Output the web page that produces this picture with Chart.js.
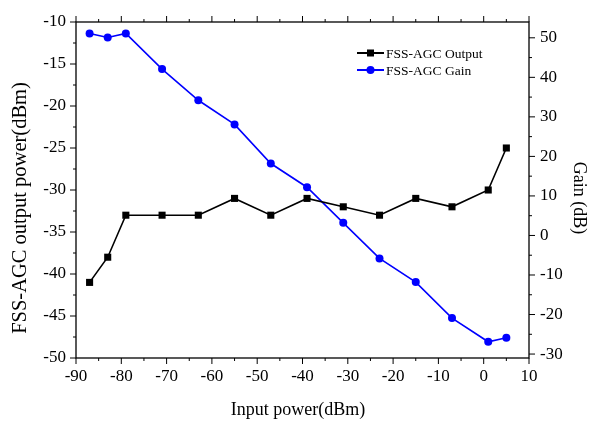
<!DOCTYPE html>
<html>
<head>
<meta charset="utf-8">
<script src="https://cdn.jsdelivr.net/npm/chart.js@4.4.1/dist/chart.umd.min.js"></script>
<style>
html, body { margin: 0; padding: 0; background: #fff; }
</style>
</head>
<body>
<canvas id="agc-chart" width="591" height="433"></canvas>
<script>
// Input power sweep (dBm) and measured values
var inputPower = [-87, -83, -79, -71, -63, -55, -47, -39, -31, -23, -15, -7, 1, 5];
var outputPower = [-41, -38, -33, -33, -33, -31, -33, -31, -32, -33, -31, -32, -30, -25];
var gainDb = [51.1, 50.1, 51.1, 42.1, 34.2, 28.1, 18.2, 12.2, 3.2, -5.8, -11.8, -20.9, -26.9, -25.9];

var seriesNames = ["FSS-AGC Output", "FSS-AGC Gain"];
var axisTitles = { x: "Input power(dBm)", y: "FSS-AGC output power(dBm)", y2: "Gain (dB)" };

var serif = '"Liberation Serif", "DejaVu Serif", serif';

function toPoints(xs, ys) {
    return xs.map(function (x, i) { return { x: x, y: ys[i] }; });
}

// Origin-style frame: box round the plot, outward ticks, minor ticks halfway
var frameTicks = {
    id: 'frameTicks',
    afterDraw: function (chart) {
        var ctx = chart.ctx, a = chart.chartArea;
        var sx = chart.scales.x, sy = chart.scales.y, sy2 = chart.scales.y2;
        ctx.save();
        ctx.strokeStyle = '#000';
        ctx.lineWidth = 1.3;
        ctx.strokeRect(a.left, a.top, a.right - a.left, a.bottom - a.top);
        ctx.lineWidth = 1;
        ctx.beginPath();

        function marks(scale, step, draw) {
            scale.ticks.forEach(function (t) {
                draw(scale.getPixelForValue(t.value), 6);
                var m = t.value + step / 2;
                if (m <= scale.max) draw(scale.getPixelForValue(m), 3);
            });
        }
        marks(sx, 10, function (p, len) {
            ctx.moveTo(p, a.bottom); ctx.lineTo(p, a.bottom + len);
            ctx.moveTo(p, a.top); ctx.lineTo(p, a.top - len);
        });
        marks(sy, 5, function (p, len) {
            ctx.moveTo(a.left, p); ctx.lineTo(a.left - len, p);
        });
        marks(sy2, 10, function (p, len) {
            ctx.moveTo(a.right, p); ctx.lineTo(a.right + len, p);
        });
        ctx.stroke();

        // axis titles (placed a little off centre, as in the original)
        ctx.fillStyle = '#000';
        ctx.textAlign = 'center';
        ctx.textBaseline = 'middle';
        ctx.font = '18px ' + serif;
        ctx.fillText(axisTitles.x, 298, 410);
        ctx.save();
        ctx.translate(21, 208);
        ctx.rotate(-Math.PI / 2);
        ctx.font = '20.5px ' + serif;
        ctx.fillText(axisTitles.y, 0, 0);
        ctx.restore();
        ctx.save();
        ctx.translate(579, 198);
        ctx.rotate(Math.PI / 2);
        ctx.font = '18px ' + serif;
        ctx.fillText(axisTitles.y2, 0, 0);
        ctx.restore();
        ctx.textAlign = 'left';

        // legend: line - marker - line, then the label
        var lx = 357, ly = 53;
        chart.data.datasets.forEach(function (ds, i) {
            var y = ly + i * 17;
            ctx.strokeStyle = ds.borderColor;
            ctx.lineWidth = 2;
            ctx.beginPath();
            ctx.moveTo(lx, y); ctx.lineTo(lx + 27, y);
            ctx.stroke();
            ctx.fillStyle = ds.backgroundColor;
            if (ds.pointStyle === 'rect') {
                ctx.fillRect(lx + 10, y - 3.5, 7, 7);
            } else {
                ctx.beginPath();
                ctx.arc(lx + 13.5, y, 4, 0, Math.PI * 2);
                ctx.fill();
            }
            ctx.fillStyle = '#000';
            ctx.font = '13.5px ' + serif;
            ctx.textBaseline = 'middle';
            ctx.fillText(ds.label, lx + 29, y + 1);
        });
        ctx.restore();
    }
};

var ctxAgc = document.getElementById('agc-chart').getContext('2d');

var agcChart = new Chart(ctxAgc, {
    type: 'line',
    data: {
        datasets: [{
            label: seriesNames[0],
            data: toPoints(inputPower, outputPower),
            yAxisID: 'y',
            borderColor: '#000000',
            backgroundColor: '#000000',
            borderWidth: 1.6,
            pointStyle: 'rect',
            pointRadius: 5,
            pointBorderWidth: 0,
            tension: 0
        }, {
            label: seriesNames[1],
            data: toPoints(inputPower, gainDb),
            yAxisID: 'y2',
            borderColor: '#0000ff',
            backgroundColor: '#0000ff',
            borderWidth: 1.6,
            pointStyle: 'circle',
            pointRadius: 4,
            pointBorderWidth: 0,
            tension: 0
        }]
    },
    options: {
        responsive: false,
        animation: false,
        layout: { padding: { top: 22, left: 0, right: 0, bottom: 0 } },
        plugins: {
            legend: { display: false },
            tooltip: { enabled: false }
        },
        scales: {
            x: {
                type: 'linear',
                position: 'bottom',
                min: -90,
                max: 10,
                grid: { display: false, drawTicks: false },
                border: { display: false },
                ticks: {
                    stepSize: 10,
                    color: '#000',
                    padding: 8,
                    maxRotation: 0,
                    font: { family: serif, size: 17 }
                },
                afterFit: function (s) { s.height = 75; }
            },
            y: {
                position: 'left',
                min: -50,
                max: -10,
                grid: { display: false, drawTicks: false },
                border: { display: false },
                ticks: {
                    stepSize: 5,
                    color: '#000',
                    padding: 10,
                    font: { family: serif, size: 17 }
                },
                afterFit: function (s) { s.width = 76; }
            },
            y2: {
                position: 'right',
                min: -31,
                max: 54,
                grid: { display: false, drawTicks: false },
                border: { display: false },
                ticks: {
                    stepSize: 10,
                    includeBounds: false,
                    color: '#000',
                    padding: 11,
                    font: { family: serif, size: 17 }
                },
                afterFit: function (s) { s.width = 62; }
            }
        }
    },
    plugins: [frameTicks]
});
</script>
</body>
</html>
